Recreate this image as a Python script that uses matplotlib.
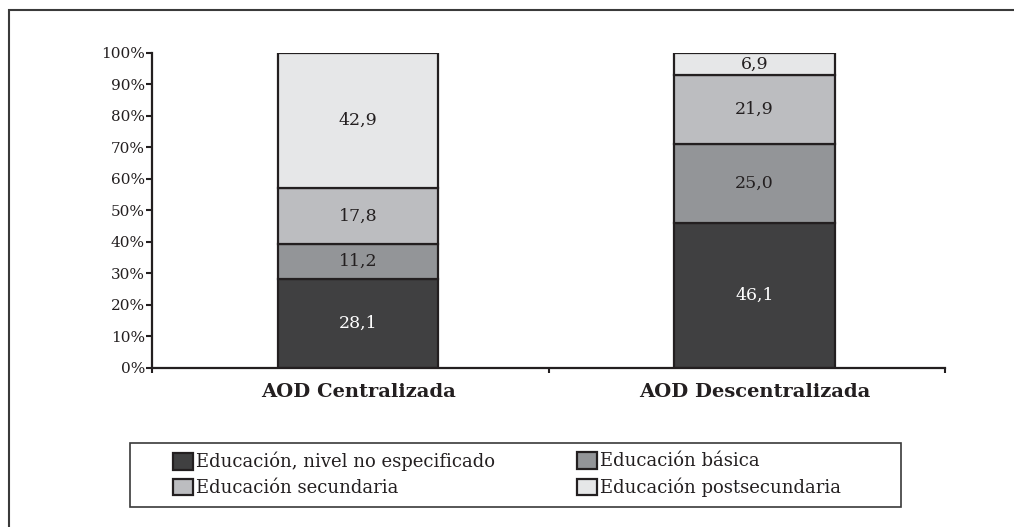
import numpy as np
import matplotlib
matplotlib.use("Agg")
import matplotlib.pyplot as plt
from matplotlib.patches import Rectangle

plt.rcParams["font.family"] = ["DejaVu Serif"]

categories = ["AOD Centralizada", "AOD Descentralizada"]
series = [
    "Educación, nivel no especificado",
    "Educación básica",
    "Educación secundaria",
    "Educación postsecundaria",
]
no_especificado = [28.1, 46.1]
basica = [11.2, 25.0]
secundaria = [17.8, 21.9]
postsecundaria = [42.9, 6.9]
labels_txt = [
    ["28,1", "46,1"],
    ["11,2", "25,0"],
    ["17,8", "21,9"],
    ["42,9", "6,9"],
]

colors = ["#404041", "#939598", "#bcbdc0", "#e6e7e8"]
text_colors = ["white", "#231f20", "#231f20", "#231f20"]
edge = "#231f20"

W, H = 1014, 527
fig = plt.figure(figsize=(W / 100, H / 100), dpi=100)
ax = fig.add_axes([152 / W, 1 - 367.5 / H, (945 - 152) / W, (367.5 - 53) / H])

x = np.arange(len(categories)) + 0.02
values = [no_especificado, basica, secundaria, postsecundaria]
bottom = np.zeros(len(categories))
containers = []
for k, vals in enumerate(values):
    vals = np.array(vals)
    bars = ax.bar(x, vals, width=0.405, bottom=bottom, color=colors[k],
                  edgecolor=edge, linewidth=1.6, zorder=2)
    containers.append(bars)
    for i in range(len(categories)):
        ax.text(x[i], bottom[i] + vals[i] / 2, labels_txt[k][i],
                ha="center", va="center", fontsize=12.5, color=text_colors[k])
    bottom = bottom + vals

ax.set_xlim(-0.5, 1.5)
ax.set_ylim(0, 100)
ax.set_yticks(np.arange(0, 101, 10))
ax.set_yticklabels([f"{v}%" for v in range(0, 101, 10)], fontsize=11)
ax.tick_params(axis="y", direction="out", length=4.5, width=1.5, color=edge,
               pad=0.5, labelcolor="#231f20")

ax.set_xticks([-0.5, 0.5, 1.5])
ax.set_xticklabels([])
ax.tick_params(axis="x", which="major", direction="out", length=3.5, width=1.5, color=edge)
ax.set_xticks(x, minor=True)
ax.set_xticklabels(categories, minor=True, fontsize=14, fontweight="bold", color="#231f20")
ax.tick_params(axis="x", which="minor", length=0, pad=11)

for s in ["top", "right"]:
    ax.spines[s].set_visible(False)
for s in ["left", "bottom"]:
    ax.spines[s].set_linewidth(1.6)
    ax.spines[s].set_color(edge)

# legend frame
fig.patches.append(Rectangle((130 / W, 1 - 507 / H), 771 / W, 64 / H,
                             transform=fig.transFigure, fill=False,
                             edgecolor="#3a3a3a", linewidth=1.2))
# outer frame
fig.patches.append(Rectangle((9 / W, -0.1), 1.2, 1.1 - 10 / H,
                             transform=fig.transFigure, fill=False,
                             edgecolor="#3a3a3a", linewidth=1.5))

leg_kw = dict(loc="center left", frameon=False, fontsize=13, handlelength=1.1,
              handleheight=1.05, handletextpad=0.2, labelspacing=0.4,
              borderpad=0, borderaxespad=0, labelcolor="#231f20")
fig.legend([containers[0], containers[2]], [series[0], series[2]],
           bbox_to_anchor=(173 / W, 1 - 474.5 / H), **leg_kw)
fig.legend([containers[1], containers[3]], [series[1], series[3]],
           bbox_to_anchor=(577 / W, 1 - 474.5 / H), **leg_kw)

fig.savefig("out.png", dpi=100)
